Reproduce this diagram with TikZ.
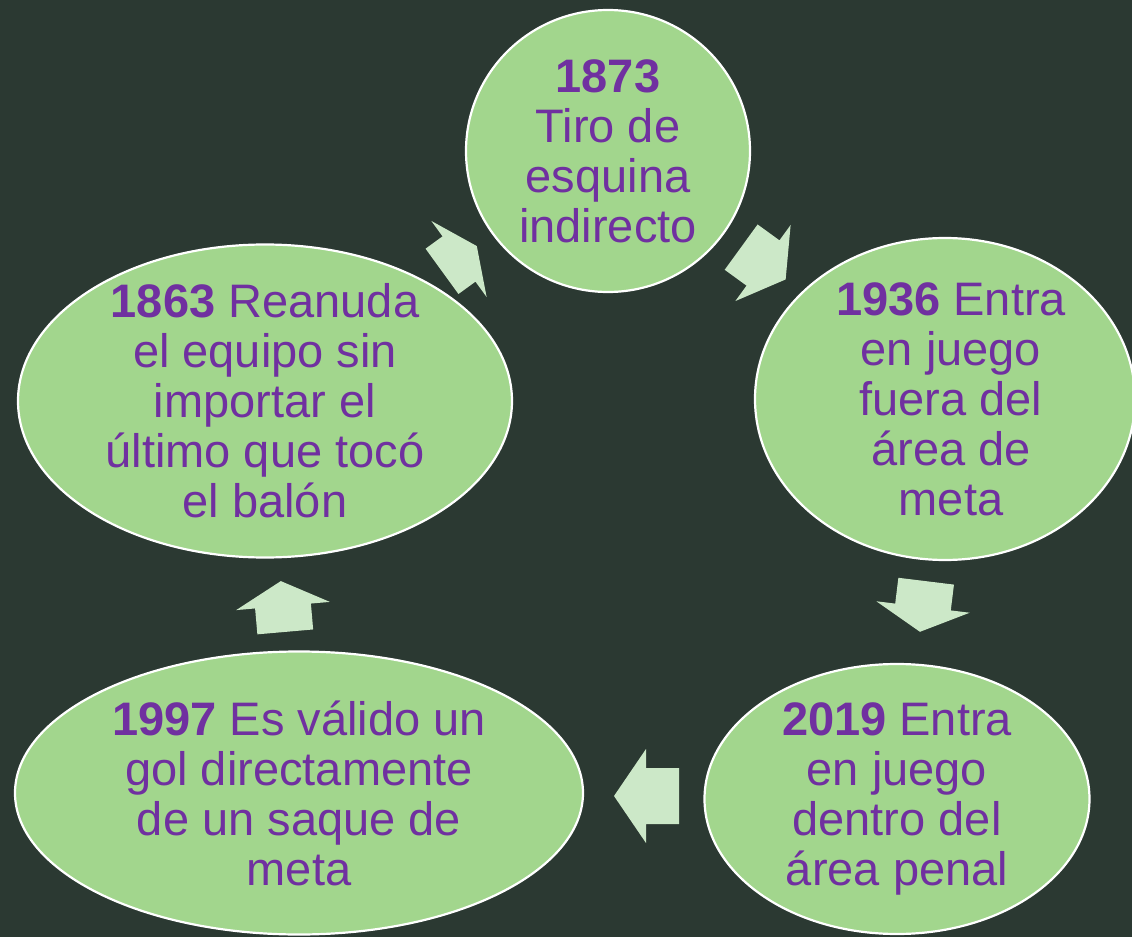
\documentclass[tikz,border=0pt]{standalone}
\usepackage{fontspec}
\setmainfont{Liberation Sans}
\usepackage{tikz}
\usetikzlibrary{shapes.geometric, % for ellipse
                positioning}

\definecolor{bgdark}{RGB}{43,57,50}
\definecolor{stepgreen}{RGB}{162,214,141}
\definecolor{arrowgreen}{RGB}{204,232,200}
\definecolor{txtpurple}{RGB}{112,48,160}

\begin{document}
\begin{tikzpicture}[x=0.5pt, y=-0.5pt,
                    event/.style={draw=white, line width=1.1pt, ellipse, fill=stepgreen, inner sep=0},
                    eventtext/.style={align=center, text=txtpurple, inner sep=0,
                                      font=\fontsize{23.5}{25}\selectfont},
                    blockarrow/.style={fill=arrowgreen}
                    ]
    %background and size
    \fill[bgdark] (0,0) rectangle (1132,937);
    \useasboundingbox (0,0) rectangle (1132,937);

    %cycle nodes
    \node[event, minimum width=142pt, minimum height=141pt,
          label={[eventtext]center:{\textbf{1873}\\Tiro de\\esquina\\indirecto}}]
          at (608,151) (E1873) {};
    \node[event, minimum width=190pt, minimum height=161pt,
          label={[eventtext, xshift=3pt]center:{\textbf{1936} Entra\\en juego\\fuera del\\área de\\meta}}]
          at (945,399) (E1936) {};
    \node[event, minimum width=192.5pt, minimum height=135pt,
          label={[eventtext]center:{\textbf{2019} Entra\\en juego\\dentro del\\área penal}}]
          at (897,799) (E2019) {};
    \node[event, minimum width=284pt, minimum height=141.5pt,
          label={[eventtext]center:{\textbf{1997} Es válido un\\gol directamente\\de un saque de\\meta}}]
          at (299,793) (E1997) {};
    \node[event, minimum width=247pt, minimum height=156.5pt,
          label={[eventtext]center:{\textbf{1863} Reanuda\\el equipo sin\\importar el\\último que tocó\\el balón}}]
          at (265,401) (E1863) {};

    %block arrows: x/y of barb line, angle, shaft, head
    \foreach \x/\y/\a/\s/\h in {459/259/36/21/22, 763/263/-36/27/28,
                                923/607/-97/26/25, 646/796/180/33/32,
                                283/606/95/26/25}
        \fill[blockarrow, shift={(\x,\y)}, rotate=\a]
            (-\s,-28) -- (0,-28) -- (0,-47) -- (\h,0) -- (0,47) -- (0,28) -- (-\s,28) -- cycle;

\end{tikzpicture}
\end{document}
